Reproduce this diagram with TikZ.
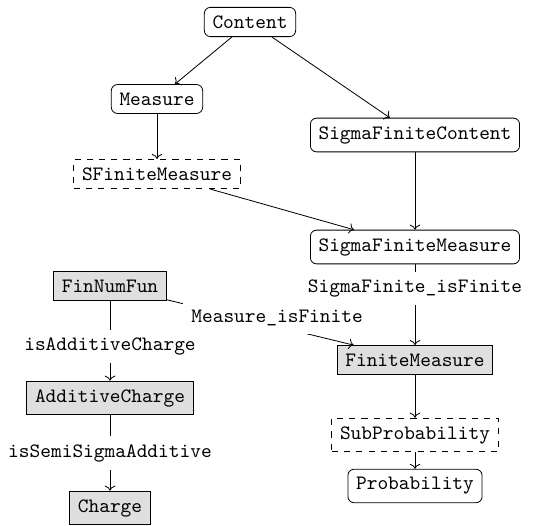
\documentclass[tikz,border=0pt]{standalone}
\usetikzlibrary{arrows.meta,positioning}

\begin{document}
\begin{tikzpicture}[
    x=0.49pt, y=-0.49pt,
    font=\ttfamily,
    rbox/.style={draw,rounded corners=3pt,inner sep=4pt},
    dbox/.style={draw,dashed,inner sep=4pt},
    gbox/.style={draw,fill=gray!25,inner sep=4pt},
    lbl/.style={fill=white,inner sep=4pt},
    ar/.style={->}
  ]
  \useasboundingbox (0,0) rectangle (550,526);

  % measure side
  \node[rbox] (content) at (250,22) {Content};
  \node[rbox] (measure) at (157,99) {Measure};
  \node[dbox] (sfinite) at (157,174) {SFiniteMeasure};
  \node[rbox] (sigcontent) at (415,135) {SigmaFiniteContent};
  \node[rbox] (sigmeasure) at (415,247) {SigmaFiniteMeasure};
  \node[gbox] (finmeasure) at (415,360) {FiniteMeasure};
  \node[dbox] (subprob) at (415,435) {SubProbability};
  \node[rbox] (prob) at (415,486) {Probability};
  \draw[ar] (content) -- (measure);
  \draw[ar] (content) -- (sigcontent);
  \draw[ar] (measure) -- (sfinite);
  \draw[ar] (sfinite) -- (sigmeasure);
  \draw[ar] (sigcontent) -- (sigmeasure);
  \draw[ar] (sigmeasure) -- node[lbl,pos=.3] {SigmaFinite\_isFinite} (finmeasure);
  \draw[ar] (finmeasure) -- (subprob);
  \draw[ar] (subprob) -- (prob);

  % charge side
  \node[gbox] (finnum) at (110,286) {FinNumFun};
  \node[gbox] (addcharge) at (110,398) {AdditiveCharge};
  \node[gbox] (charge) at (110,508) {Charge};
  \draw[ar] (finnum) -- node[lbl,pos=.59,yshift=4pt] {Measure\_isFinite} (finmeasure);
  \draw[ar] (finnum) -- node[lbl,pos=.57] {isAdditiveCharge} (addcharge);
  \draw[ar] (addcharge) -- node[lbl,pos=.5] {isSemiSigmaAdditive} (charge);
\end{tikzpicture}
\end{document}
